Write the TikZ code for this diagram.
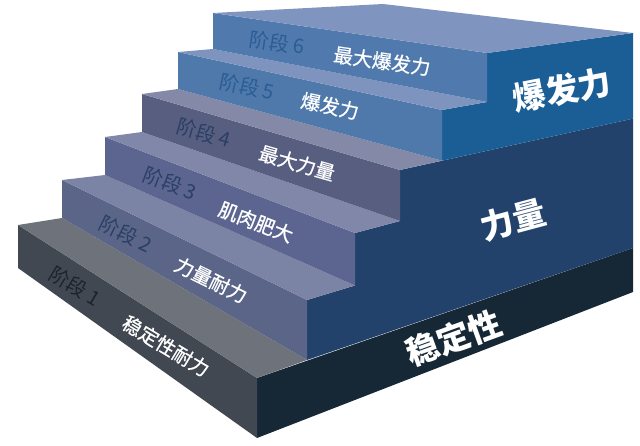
\documentclass[tikz,border=0pt]{standalone}
\usepackage{fontspec}
\setmainfont{Noto Sans CJK SC}
\newfontfamily\goalfont[FakeBold=0.7]{Noto Sans CJK SC}
\usepackage{tikz}

\definecolor{riserA}{HTML}{424851}
\definecolor{treadA}{HTML}{6E737B}
\definecolor{riserB}{HTML}{5A6587}
\definecolor{treadB}{HTML}{7C84A5}
\definecolor{riserC}{HTML}{5B6590}
\definecolor{treadC}{HTML}{8087A9}
\definecolor{riserD}{HTML}{575E80}
\definecolor{treadD}{HTML}{8589A8}
\definecolor{riserE}{HTML}{4F78AB}
\definecolor{treadE}{HTML}{7E94BF}
\definecolor{riserF}{HTML}{5079AD}
\definecolor{treadF}{HTML}{7F95BF}
\definecolor{sideA}{HTML}{162736}
\definecolor{sideB}{HTML}{22426B}
\definecolor{sideC}{HTML}{1B5E96}
\definecolor{stageA}{HTML}{1D232C}
\definecolor{stageB}{HTML}{2B3F66}
\definecolor{stageC}{HTML}{2A5D94}

\newcommand{\stagetxt}[1]{阶段\hspace{4pt}#1}

\tikzset{
    stagelbl/.style={font=\fontsize{20}{20}\selectfont},
    goallbl/.style={text=white,font=\goalfont\fontsize{19.5}{20}\selectfont},
    biglbl/.style={text=white,font=\fontsize{33}{33}\selectfont\bfseries},
}

\begin{document}
\begin{tikzpicture}[x=1pt,y=-1pt]
    \useasboundingbox (0,0) rectangle (640,445);
    % side of the stairs
    \fill[sideA] (257,378) -- (257,438) -- (633,292) -- (633,248) -- cycle;
    \fill[sideB] (307,360) -- (633,248) -- (633,118.6) -- (400,170) -- (400,221)
        -- (355,233) -- (355,285.5) -- (307,300) -- cycle;
    \fill[sideC] (442,160.7) -- (633,118.6) -- (633,33) -- (487,53) -- (487,102)
        -- (442,110) -- cycle;
    % steps
    \fill[riserA] (18,225) -- (257,378) -- (257,438) -- (18,268) -- cycle;
    \fill[treadA] (18,225) -- (257,378) -- (307,360) -- (62,218) -- cycle;
    \fill[riserB] (62,180) -- (307,300) -- (307,360) -- (62,218) -- cycle;
    \fill[treadB] (62,180) -- (307,300) -- (355,285.5) -- (105,175) -- cycle;
    \fill[riserC] (105,137) -- (355,233) -- (355,285.5) -- (105,175) -- cycle;
    \fill[treadC] (105,137) -- (355,233) -- (400,221) -- (142,132) -- cycle;
    \fill[riserD] (142,94) -- (400,170) -- (400,221) -- (142,132) -- cycle;
    \fill[treadD] (142,94) -- (400,170) -- (442,160.7) -- (178,89) -- cycle;
    \fill[riserE] (178,52) -- (442,110) -- (442,160.7) -- (178,89) -- cycle;
    \fill[treadE] (178,52) -- (442,110) -- (487,102) -- (213,49) -- cycle;
    \fill[riserF] (213,13) -- (487,53) -- (487,102) -- (213,49) -- cycle;
    \fill[treadF] (213,13) -- (487,53) -- (633,33) -- (383,4) -- cycle;
    % labels
    \node[stagelbl,text=stageA,rotate=-31] at (75,286) (s1) {\stagetxt{1}};
    \node[goallbl,rotate=-31] at (166,346) (g1) {稳定性耐力};
    \node[stagelbl,text=stageB,rotate=-26] at (126,234) (s2) {\stagetxt{2}};
    \node[goallbl,rotate=-26] at (211,280) (g2) {力量耐力};
    \node[stagelbl,text=stageB,rotate=-21] at (170,183) (s3) {\stagetxt{3}};
    \node[goallbl,rotate=-21] at (256,222) (g3) {肌肉肥大};
    \node[stagelbl,text=stageB,rotate=-16] at (204,133) (s4) {\stagetxt{4}};
    \node[goallbl,rotate=-16] at (297,163) (g4) {最大力量};
    \node[stagelbl,text=stageC,rotate=-12] at (247,87) (s5) {\stagetxt{5}};
    \node[goallbl,rotate=-12] at (330,106) (g5) {爆发力};
    \node[stagelbl,text=stageC,rotate=-8] at (277,43) (s6) {\stagetxt{6}};
    \node[goallbl,rotate=-8] at (382,61) (g6) {最大爆发力};
    \node[biglbl,rotate=11] at (562,90) (b3) {爆发力};
    \node[biglbl,rotate=15] at (513,220) (b2) {力量};
    \node[biglbl,rotate=20] at (454,338) (b1) {稳定性};
\end{tikzpicture}
\end{document}
